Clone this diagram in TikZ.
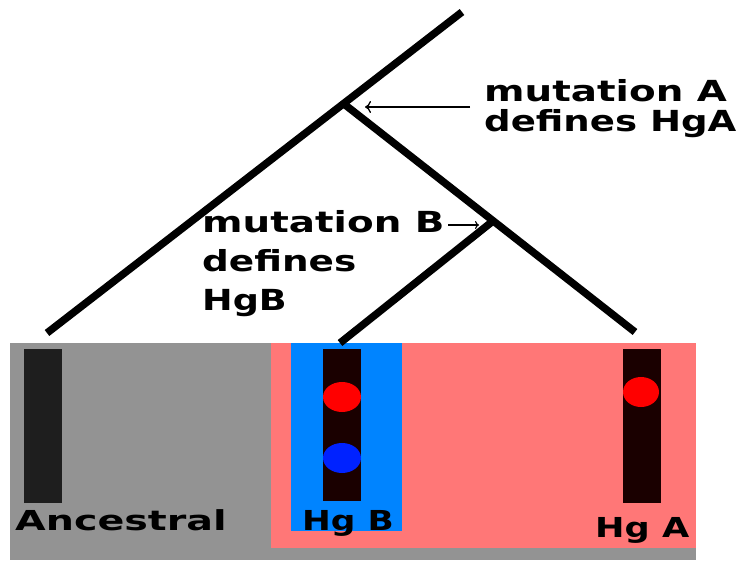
\documentclass[tikz,border=0pt]{standalone}
\usepackage{fontspec}
\usepackage{graphicx}
\newfontfamily\lbl{DejaVu Sans}
\usetikzlibrary{arrows.meta}
\definecolor{bggray}{HTML}{939393}
\definecolor{pinkbg}{HTML}{FF7777}
\definecolor{bluebg}{HTML}{0084FF}
\definecolor{bardark}{HTML}{1E1E1E}
\definecolor{barred}{HTML}{1A0000}
\definecolor{dotred}{HTML}{FF0000}
\definecolor{dotblue}{HTML}{0022FF}
\newcommand\widetxt[2]{\scalebox{#1}[1]{#2}}
\tikzset{
  branch/.style={line width=7.5pt, line cap=butt},
  lab/.style={font=\lbl\bfseries\fontsize{29}{30}\selectfont, inner sep=0pt, anchor=base west},
  hglab/.style={font=\lbl\bfseries\fontsize{27.5}{30}\selectfont, inner sep=0pt, anchor=base west},
  pointer/.style={line width=1.3pt, -{To[length=6pt,width=12pt]}},
  smallpointer/.style={line width=1.2pt, -{To[length=4pt,width=8pt]}},
}
\begin{document}
\begin{tikzpicture}[x=1pt,y=-1pt]
\useasboundingbox (0,0) rectangle (739,560);
\fill[white] (0,0) rectangle (739,560);
% background panels
\fill[bggray] (10,343) rectangle (696,560);
\fill[pinkbg] (271,343) rectangle (696,548);
\fill[bluebg] (291,343) rectangle (402,531);
% chromosome bars
\fill[bardark] (24,349) rectangle (62,503);
\fill[barred] (323,349) rectangle (361,501);
\fill[barred] (623,349) rectangle (661,503);
% dots
\fill[dotred] (342,397) ellipse [x radius=19, y radius=15];
\fill[dotblue] (342,458) ellipse [x radius=19, y radius=15];
\fill[dotred] (641,392) ellipse [x radius=18, y radius=15];
% tree
\coordinate (top) at (462,12);
\coordinate (anc) at (47,333);
\coordinate (j1) at (344,104);
\coordinate (hga) at (635,332);
\coordinate (j2) at (493,221);
\coordinate (hgb) at (340,343);
\draw[branch] (top) -- (anc);
\draw[branch] (j1) -- (hga);
\draw[branch] (j2) -- (hgb);
% labels
\node[lab] (mA1) at (484,101) {\widetxt{1.34}{mutation A}};
\node[lab] (mA2) at (484,131) {\widetxt{1.28}{defines HgA}};
\node[lab] (mB1) at (202,232) {\widetxt{1.34}{mutation B}};
\node[lab] (mB2) at (202,271) {\widetxt{1.29}{defines}};
\node[lab] (mB3) at (202,310) {\widetxt{1.26}{HgB}};
\node[hglab] (anl) at (15,530) {\widetxt{1.44}{Ancestral}};
\node[hglab] (hbl) at (302,530) {\widetxt{1.25}{Hg B}};
\node[hglab] (hal) at (595,537) {\widetxt{1.28}{Hg A}};
% pointers
\coordinate (pAs) at (470,107);
\coordinate (pAe) at (365,107);
\coordinate (pBs) at (448,225);
\coordinate (pBe) at (479,225);
\draw[pointer] (pAs) -- (pAe);
\draw[smallpointer] (pBs) -- (pBe);
\end{tikzpicture}
\end{document}
